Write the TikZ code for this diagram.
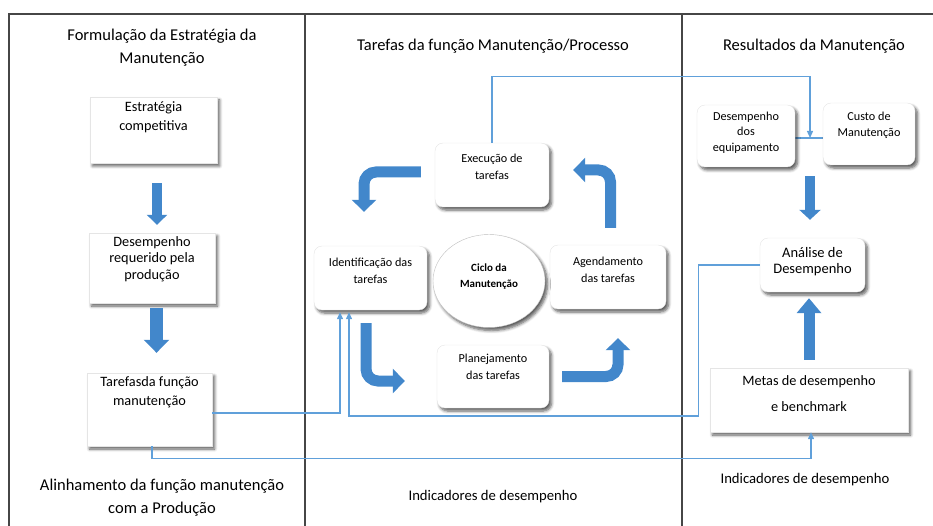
\documentclass[tikz,border=0pt]{standalone}
\usepackage{fontspec}
\setmainfont{Carlito}
\usepackage{tikz}
\usetikzlibrary{arrows.meta,calc,shapes.geometric,shadows.blur}
\definecolor{fatblue}{RGB}{66,135,203}
\definecolor{linkblue}{RGB}{96,160,218}
\definecolor{framegray}{RGB}{70,70,70}
\pgfdeclarelayer{bg}
\pgfsetlayers{bg,main}

\begin{document}
\begin{tikzpicture}[x=1pt,y=-1pt,
        box/.style={draw=black!10,fill=white,minimum width=#1,inner sep=0pt,
                blur shadow={shadow xshift=2.5pt,shadow yshift=-3pt,shadow blur steps=6,shadow blur radius=3pt,shadow opacity=65}},
        rbox/.style={box=#1,rounded corners=8pt},
        title/.style={align=center,font=\fontsize{16.5}{23}\selectfont},
        btxt/.style={align=center,font=\fontsize{14.3}{19}\selectfont},
        ctxt/.style={align=center,font=\fontsize{12.2}{17}\selectfont},
        fat/.style={draw=fatblue,line cap=butt},
        cyc/.style={fat,line width=11pt,rounded corners=12pt,-{Triangle[width=24pt,length=12pt]}},
        link/.style={draw=linkblue,line width=1.3pt},
        tip/.style={-{Triangle[width=6pt,length=7pt]}},
        frame/.style={draw=framegray,line width=1.5pt}]
        \useasboundingbox (0,0) rectangle (933,526);
        \draw[frame] (9,526) -- (9,14) -- (933,14);
        \draw[frame] (305,14) -- (305,526);
        \draw[frame] (682,14) -- (682,526);
        \node[title] (t-form) at (162,47.5) {Formulação da Estratégia da\\Manutenção};
        \node[title] (t-tarf) at (493,46) {Tarefas da função Manutenção/Processo};
        \node[title] (t-res) at (814,46) {Resultados da Manutenção};
        \node[title] (t-alin) at (162,498) {Alinhamento da função manutenção\\com a Produção};
        \node[title,font=\fontsize{14.7}{18}\selectfont] (t-ind1) at (493,497) {Indicadores de desempenho};
        \node[title,font=\fontsize{14.7}{18}\selectfont] (t-ind2) at (805,480) {Indicadores de desempenho};
        \node[box=127pt,minimum height=66pt] (estr) at (153.5,130) {};
        \node[btxt] (estr-t) at ([yshift=12.5pt]estr.center) {Estratégia\\competitiva};
        \node[box=126pt,minimum height=70pt] (desreq) at (152,268) {};
        \node[btxt,font=\fontsize{14.3}{16.5}\selectfont] (desreq-t) at ([yshift=9pt]desreq.center) {Desempenho\\requerido pela\\produção};
        \node[box=125pt,minimum height=73pt] (tarf) at (149.5,409.5) {};
        \node[btxt] (tarf-t) at ([yshift=17pt]tarf.center) {Tarefasda função\\manutenção};
        \node[rbox=114pt,minimum height=64pt] (exec) at (492,175) {};
        \node[ctxt] (exec-t) at ([yshift=8.5pt]exec.center) {Execução de\\tarefas};
        \node[rbox=113pt,minimum height=64pt] (ident) at (370.5,278) {};
        \node[ctxt] (ident-t) at ([yshift=7.5pt]ident.center) {Identificação das\\tarefas};
        \node[rbox=116pt,minimum height=64pt] (agend) at (608,277) {};
        \node[ctxt] (agend-t) at ([yshift=7.5pt]agend.center) {Agendamento\\das tarefas};
        \node[rbox=112pt,minimum height=63pt] (plan) at (493,376.5) {};
        \node[ctxt] (plan-t) at ([yshift=10pt]plan.center) {Planejamento\\das tarefas};
        \node[box=112pt,minimum height=93pt,ellipse,draw=black!25] (ciclo) at (489,281) {};
        \node[align=center,font=\bfseries\fontsize{11}{16}\selectfont] (ciclo-t) at ([yshift=4.5pt]ciclo.center) {Ciclo da\\Manutenção};
        \node[rbox=98pt,minimum height=62pt] (deseq) at (746,136) {};
        \node[ctxt,font=\fontsize{12.2}{15.5}\selectfont] (deseq-t) at ([yshift=3.5pt]deseq.center) {Desempenho\\dos\\equipamento};
        \node[rbox=92pt,minimum height=62pt] (custo) at (869,134) {};
        \node[ctxt,font=\fontsize{12.2}{16}\selectfont] (custo-t) at ([yshift=9pt]custo.center) {Custo de\\Manutenção};
        \node[rbox=105pt,minimum height=54pt] (anal) at (812.5,265) {};
        \node[btxt,font=\fontsize{14.5}{16}\selectfont] (anal-t) at ([yshift=3pt]anal.center) {Análise de\\Desempenho};
        \node[box=198pt,minimum height=64pt] (metas) at (809,400) {};
        \node[btxt,font=\fontsize{14.3}{26}\selectfont] (metas-t) at ([yshift=6pt]metas.center) {Metas de desempenho\\e benchmark};
        \coordinate (jn) at (810,138);
        \begin{pgfonlayer}{bg}
                \draw[link] (deseq.east |- jn) -- (custo.west |- jn);
        \end{pgfonlayer}
        \draw[link,tip] (exec.north) -- ++(0,-66) -| (jn);
        \draw[link,tip] ($(tarf.east)+(0,3.5)$) -| ($(ident.south)+(-30.5,2)$);
        \draw[link,tip] (anal.west) -| ($(metas.west)+(-11,16)$) -| ($(ident.south)+(-21.5,2)$);
        \draw[link,tip] ($(tarf.south)+(2.5,0)$) -- ++(0,12) -| ($(metas.south)+(2,0)$);
        \draw[fat,line width=10pt,-{Triangle[width=20pt,length=10pt]},shorten <=20pt,shorten >=8pt] ([xshift=3.5pt]estr.south) -- ([xshift=3.5pt]estr.south |- desreq.north);
        \draw[fat,line width=13pt,-{Triangle[width=25pt,length=13pt]},shorten <=5pt,shorten >=20pt] ([xshift=4.5pt]desreq.south) -- ([xshift=4.5pt]desreq.south |- tarf.north);
        \draw[fat,line width=10pt,-{Triangle[width=21pt,length=10pt]},shorten <=9pt,shorten >=18pt] (jn |- deseq.south) -- (jn |- anal.north);
        \draw[fat,line width=11pt,-{Triangle[width=24pt,length=15pt]},shorten <=8pt,shorten >=6pt] (metas.north) -- (metas.north |- anal.south);
        \draw[cyc] ($(exec.west)+(-14,-3)$) -| ($(ident.north)+(-6.5,-34)$);
        \draw[cyc] ($(ident.south)+(-4.5,13)$) |- ($(plan.west)+(-32,4.5)$);
        \draw[cyc] ($(plan.east)+(13,0)$) -| ($(agend.south)+(10,29)$);
        \draw[cyc] ($(agend.north)+(2.5,-17)$) |- ($(exec.east)+(24,-5)$);
\end{tikzpicture}
\end{document}
